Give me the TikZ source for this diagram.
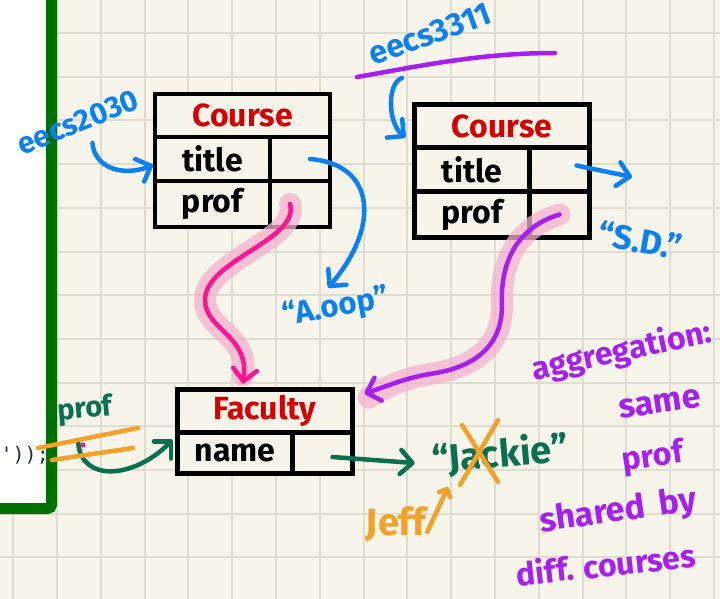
\documentclass[tikz,border=0pt]{standalone}
\usepackage{fontspec}
\setmainfont{Fira Sans}
\setmonofont{DejaVu Sans Mono}
\usetikzlibrary{arrows.meta,positioning}

\definecolor{paper}{HTML}{F7F5EA}
\definecolor{gridline}{HTML}{DFDDCF}
\definecolor{boardgreen}{HTML}{007000}
\definecolor{classred}{HTML}{D40000}
\definecolor{penblue}{HTML}{0A80F5}
\definecolor{pengreen}{HTML}{08704F}
\definecolor{penorange}{HTML}{F5A029}
\definecolor{penpurple}{HTML}{A61EF2}
\definecolor{penpink}{HTML}{FF1493}
\definecolor{glow}{HTML}{F3B0CE}
\definecolor{codeink}{HTML}{1E2A40}

\begin{document}
\begin{tikzpicture}[
    x=1pt, y=-1pt,
    >={Straight Barb[length=12pt,width=24pt,round]},
    cell/.style={draw, fill=paper, line width=4.5pt, outer sep=0pt, inner sep=0pt,
        font=\bfseries\fontsize{32}{32}\selectfont},
    headcell/.style={cell, minimum width=175pt, minimum height=43pt, text=classred},
    keycell/.style={cell, minimum width=115pt, minimum height=#1},
    valcell/.style={cell, minimum width=60pt, minimum height=#1},
    hand/.style={font=\bfseries\fontsize{#1}{#1}\selectfont, inner sep=1pt},
    pen/.style={line width=4.5pt, line cap=round, line join=round},
    glowpen/.style={line width=22pt, line cap=round, draw=glow, opacity=0.75}
]
\useasboundingbox (0,0) rectangle (720,599);
\clip (0,0) rectangle (720,599);
\fill[paper] (0,0) rectangle (720,599);
\foreach \k in {0,...,16}
    \draw[gridline, line width=2pt] ({13.2+43.8*\k},0) -- ++(0,599);
\foreach \k in {0,...,13}
    \draw[gridline, line width=2pt] (0,{33+43.7*\k}) -- ++(720,0);

\fill[white] (-10,-10) rectangle (51.5,508.5);
\node[font=\ttfamily\fontsize{20}{20}\selectfont, text=codeink, anchor=east, inner sep=0pt] (code) at (49,455) {'));};
\draw[boardgreen, line width=11pt, rounded corners=4pt] (51.5,-10) -- (51.5,508.5) -- (-10,508.5);

\node[headcell, anchor=north west] (c1head) at (155,94) {Course};
\node[keycell=44pt] (c1title) [below right=0pt and 0pt of c1head.south west] {title};
\node[valcell=44pt] (c1titleval) [right=0pt of c1title] {};
\node[keycell=46pt] (c1prof) [below=0pt of c1title] {prof};
\node[valcell=46pt] (c1profval) [right=0pt of c1prof] {};

\node[headcell, anchor=north west] (c2head) at (414.5,104.5) {Course};
\node[keycell=44pt] (c2title) [below right=0pt and 0pt of c2head.south west] {title};
\node[valcell=44pt] (c2titleval) [right=0pt of c2title] {};
\node[keycell=46pt] (c2prof) [below=0pt of c2title] {prof};
\node[valcell=46pt] (c2profval) [right=0pt of c2prof] {};

\node[headcell, anchor=north west] (fhead) at (177.5,389.5) {Faculty};
\node[keycell=41pt] (fname) [below right=0pt and 0pt of fhead.south west] {name};
\node[valcell=41pt] (fnameval) [right=0pt of fname] {};

\node[hand=30, text=penblue, rotate=22] (e2030) at (78,122) {eecs2030};
\node[hand=32, text=penblue, rotate=20] (e3311) at (430,34) {eecs3311};
\node[hand=31, text=penblue, rotate=10] (aoop) at (336,308) {“A.oop”};
\node[hand=34, text=penblue, rotate=-10] (sd) at (640,240) {“S.D.”};
\node[hand=38, text=pengreen, rotate=5] (jackie) at (500,455) {“Jackie”};
\node[hand=38, text=penorange] (jeff) at (396,524) {Jeff};
\node[hand=29, text=pengreen, rotate=5] (gprof) at (85,410) {prof};
\node[hand=32, text=penpurple, rotate=12] (aggr) at (622,352) {aggregation:};
\node[hand=34, text=penpurple, rotate=8] (same) at (660,404) {same};
\node[hand=32, text=penpurple, rotate=8] (sprof) at (653,458) {prof};
\node[hand=34, text=penpurple, rotate=8] (shared) at (618,512) {shared\hspace{14pt}by};
\node[hand=32, text=penpurple, rotate=6] (diff) at (606,564) {diff. courses};
\coordinate (c2tip) at (632,177);
\coordinate (caret) at (448,487);

\draw[glowpen] ([xshift=-10pt]c1profval.center) .. controls (300,240) and (205,260) .. (205,300)
    .. controls (205,330) and (250,335) .. ([xshift=-22pt,yshift=14pt]fhead.north);
\draw[glowpen] (c2profval.center) .. controls (515,228) and (500,265) .. (502,305)
    .. controls (502,350) and (470,368) .. (430,374) .. controls (405,378) and (385,387) .. ([xshift=16pt,yshift=-8pt]fhead.north east);

\draw[pen, penpurple] (357,77) .. controls (420,66) and (480,53) .. (555,53);

\draw[pen, penblue, ->] ([xshift=10pt,yshift=-10pt]e2030.south) .. controls +(2,25) and +(-30,12) .. ([xshift=-2pt,yshift=-6pt]c1title.west);
\draw[pen, penblue, ->] ([xshift=-28pt,yshift=-44pt]e3311.center) .. controls +(-15,5) and +(-18,-15) .. ([xshift=-9pt,yshift=10pt]c2head.south west);
\draw[pen, penblue, ->] ([xshift=10pt]c1titleval.center) .. controls +(65,5) and +(53,-62) .. ([xshift=-5pt,yshift=4pt]aoop.north);
\draw[pen, penblue, ->] ([xshift=17pt,yshift=4pt]c2titleval.center) -- (c2tip);

\draw[pen, penpink, ->] ([xshift=-10pt]c1profval.center) .. controls (300,240) and (205,260) .. (205,300)
    .. controls (205,330) and (250,335) .. ([xshift=-22pt,yshift=6pt]fhead.north);
\draw[pen, penpurple, ->] (c2profval.center) .. controls (515,228) and (500,265) .. (502,305)
    .. controls (502,350) and (470,368) .. (430,374) .. controls (405,378) and (385,387) .. ([xshift=12pt,yshift=-4pt]fhead.north east);

\draw[pen, pengreen, ->] ([xshift=-8pt,yshift=-18pt]gprof.south) .. controls +(3,38) and +(-40,40) .. ([xshift=-5pt,yshift=13pt]fname.west);
\draw[pen, pengreen, ->] ([xshift=10pt,yshift=-4pt]fnameval.center) -- ([xshift=-16pt,yshift=-2pt]jackie.west);

\draw[pen, penorange] (gprof.center) ++(-47,38) -- ++(100,-20);
\draw[pen, penorange] (gprof.center) ++(-33,50) -- ++(81,-12);
\fill[penpink] (83,445) circle (2.5pt);
\draw[pen, penorange] (jackie.center) ++(-38,-30) -- ++(36,57);
\draw[pen, penorange] (jackie.center) ++(-2,-35) -- ++(-38,65);
\draw[pen, penorange, ->, >={Straight Barb[length=6pt,width=12pt,round]}] ([xshift=0pt,yshift=-8pt]jeff.east) -- (caret);
\end{tikzpicture}
\end{document}
